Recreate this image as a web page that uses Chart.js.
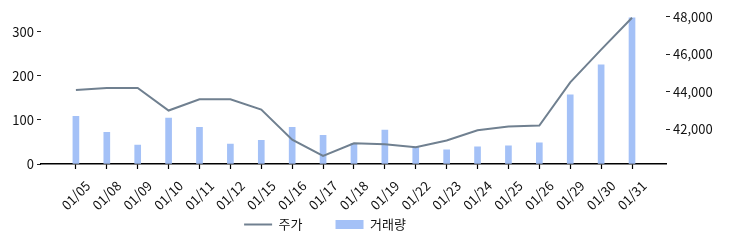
<!DOCTYPE html>
<html lang="ko">
<head>
    <meta charset="UTF-8">
    <title>주가 / 거래량</title>
    <script src="https://cdnjs.cloudflare.com/ajax/libs/Chart.js/4.4.0/chart.umd.min.js"></script>
    <style>
        html, body { margin: 0; padding: 0; background: #fff; }
        .chart-wrap { position: relative; width: 730px; height: 247px; }
    </style>
</head>
<body>
    <div class="chart-wrap">
        <canvas id="priceChart"></canvas>
    </div>
    <script>
        // data
        const dates = ['01/05', '01/08', '01/09', '01/10', '01/11', '01/12', '01/15', '01/16', '01/17', '01/18',
                       '01/19', '01/22', '01/23', '01/24', '01/25', '01/26', '01/29', '01/30', '01/31'];
        const price = [44100, 44200, 44200, 43000, 43600, 43600, 43050, 41450, 40580, 41250,
                       41200, 41050, 41400, 41950, 42150, 42200, 44500, 46250, 47950];
        const volume = [108, 72, 43, 104, 83, 45, 54, 83, 65, 47,
                        77, 39, 32, 39, 41, 48, 157, 225, 332];
        const volumeTicks = [0, 100, 200, 300];
        const priceTicks = [42000, 44000, 46000, 48000];

        const tickColor = '#222';
        Chart.defaults.font.family = "'Noto Sans CJK KR', 'Noto Sans', sans-serif";
        Chart.defaults.font.size = 13;
        Chart.defaults.color = '#111';

        // legend sits a bit left of centre, and the date labels hang down into its band
        const layoutFix = {
            id: 'layoutFix',
            afterLayout(chart) {
                chart.legend.left -= 40;
                chart.legend.right -= 40;
                const x = chart.scales.x;
                x.bottom = x.top + 46;
                x.height = 46;
            }
        };

        new Chart(document.getElementById('priceChart'), {
            data: {
                datasets: [{
                    type: 'line',
                    label: '주가',
                    data: price.map((v, i) => ({ x: i, y: v })),
                    yAxisID: 'y1',
                    borderColor: '#708090',
                    backgroundColor: '#708090',
                    borderWidth: 2,
                    pointRadius: 0,
                    pointStyle: 'line',
                    tension: 0,
                    order: 0
                }, {
                    type: 'bar',
                    label: '거래량',
                    data: volume.map((v, i) => ({ x: i, y: v })),
                    yAxisID: 'y',
                    backgroundColor: '#a4c1f7',
                    borderWidth: 0,
                    barThickness: 6,
                    pointStyle: 'rect',
                    order: 1
                }]
            },
            options: {
                responsive: true,
                maintainAspectRatio: false,
                animation: false,
                layout: { padding: { top: 9, bottom: 6, left: 0, right: 0 } },
                plugins: {
                    tooltip: { enabled: false },
                    legend: {
                        position: 'bottom',
                        labels: {
                            usePointStyle: true,
                            pointStyleWidth: 28,
                            boxHeight: 9,
                            padding: 33,
                            font: { size: 13 }
                        }
                    }
                },
                scales: {
                    x: {
                        type: 'linear',
                        offset: false,
                        min: -1.13,
                        max: 19.1,
                        afterBuildTicks: s => { s.ticks = dates.map((d, i) => ({ value: i })); },
                        afterFit: s => {
                            s.height = 21;
                            s.paddingLeft = 0;
                            s.paddingRight = 0;
                        },
                        ticks: {
                            callback: v => dates[v],
                            autoSkip: false,
                            minRotation: 45,
                            maxRotation: 45,
                            labelOffset: 12,
                            padding: 9
                        },
                        grid: { offset: false, drawOnChartArea: false, tickLength: 5, color: '#000', tickWidth: 1.2 },
                        border: { display: true, color: '#000', width: 1.5 }
                    },
                    y: {
                        position: 'left',
                        min: 0,
                        max: 347.7,
                        afterBuildTicks: s => { s.ticks = volumeTicks.map(v => ({ value: v })); },
                        afterFit: s => { s.width = 41; },
                        ticks: { padding: 3 },
                        grid: { drawOnChartArea: false, tickLength: 4, color: tickColor },
                        border: { display: false }
                    },
                    y1: {
                        position: 'right',
                        min: 40150,
                        max: 48320,
                        afterBuildTicks: s => { s.ticks = priceTicks.map(v => ({ value: v })); },
                        afterFit: s => { s.width = 64; },
                        ticks: { padding: 3, callback: v => v.toLocaleString('en-US') },
                        grid: { drawOnChartArea: false, tickLength: 4, color: tickColor },
                        border: { display: false }
                    }
                }
            },
            plugins: [layoutFix]
        });
    </script>
</body>
</html>
